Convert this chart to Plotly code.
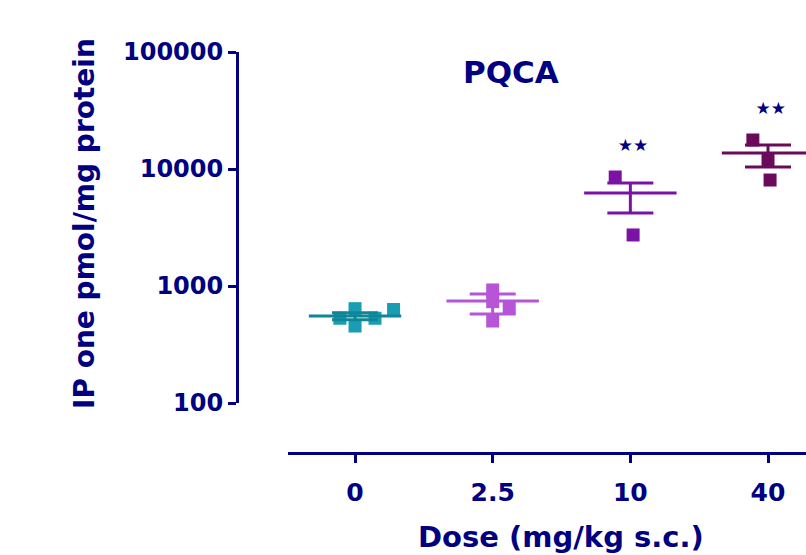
import plotly.graph_objects as go

# ---- data ----
dose_labels = ["0", "2.5", "10", "40"]
group_colors = ["#1a9cb2", "#b655d8", "#7a12a6", "#6a0a5a"]
mean_colors = ["#0f8598", "#b655d8", "#7a12a6", "#6a0a5a"]

g0_values = [530, 640, 455, 530, 630]
g0_offsets = [-0.11, 0.0, 0.0, 0.145, 0.28]
g1_values = [925, 735, 502, 662]
g1_offsets = [0.0, 0.0, 0.0, 0.12]
g2_values = [8540, 2730]
g2_offsets = [-0.11, 0.02]
g3_values = [17700, 11900, 8050]
g3_offsets = [-0.11, 0.0, 0.015]

means = [555, 745, 6230, 13700]
sem_upper = [590, 855, 7590, 16030]
sem_lower = [515, 577, 4210, 10400]

sig_labels = ["", "", "★★", "★★"]

groups_values = [g0_values, g1_values, g2_values, g3_values]
groups_offsets = [g0_offsets, g1_offsets, g2_offsets, g3_offsets]

NAVY = "#000080"
FONT = "DejaVu Sans"

fig = go.Figure()

for i, (vals, offs) in enumerate(zip(groups_values, groups_offsets)):
    fig.add_trace(go.Scatter(
        x=[i + o for o in offs], y=vals, mode="markers",
        marker=dict(symbol="square", size=13, color=group_colors[i], line=dict(width=0)),
        cliponaxis=False, showlegend=False, hoverinfo="skip"))

for i in range(4):
    fig.add_trace(go.Scatter(
        x=[i], y=[means[i]], mode="markers",
        marker=dict(symbol="line-ew-open", size=66, color=mean_colors[i],
                    line=dict(width=3, color=mean_colors[i])),
        error_y=dict(type="data", symmetric=False,
                     array=[sem_upper[i] - means[i]],
                     arrayminus=[means[i] - sem_lower[i]],
                     color=mean_colors[i], thickness=3, width=23),
        cliponaxis=False, showlegend=False, hoverinfo="skip"))

# significance stars
sig_x = [i + 0.02 for i in range(4) if sig_labels[i]]
sig_y = [max(groups_values[i]) * 1.8 for i in range(4) if sig_labels[i]]
fig.add_trace(go.Scatter(
    x=sig_x, y=sig_y, mode="text",
    text=[s for s in sig_labels if s],
    textfont=dict(family=FONT, size=17, color=NAVY),
    textposition="middle center", cliponaxis=False,
    showlegend=False, hoverinfo="skip"))

W, H = 806, 555
ml, mt, mr, mb = 237, 52, 0, 102
pw = W - ml - mr
ph = H - mt - mb

fig.update_layout(
    width=W, height=H,
    margin=dict(l=ml, r=mr, t=mt, b=mb, pad=0),
    paper_bgcolor="white", plot_bgcolor="white",
    xaxis=dict(
        domain=[(288 - 237) / pw, 1],
        range=[-0.487, 3.276],
        tickvals=[0, 1, 2, 3], ticktext=dose_labels,
        showgrid=False, zeroline=False,
        showline=True, linecolor=NAVY, linewidth=3,
        ticks="outside", ticklen=8, tickwidth=3, tickcolor=NAVY,
        ticklabelstandoff=8,
        tickfont=dict(family=FONT, size=25, color=NAVY, weight="bold"),
        anchor="free", position=0,
    ),
    yaxis=dict(
        type="log", range=[2, 5],
        domain=[(453 - 403) / ph, 1],
        tickvals=[100, 1000, 10000, 100000],
        ticktext=["100", "1000", "10000", "100000"],
        showgrid=False, zeroline=False,
        showline=True, linecolor=NAVY, linewidth=3,
        ticks="outside", ticklen=8, tickwidth=3, tickcolor=NAVY,
        tickfont=dict(family=FONT, size=24, color=NAVY, weight="bold"),
        anchor="free", position=0,
    ),
    annotations=[
        dict(text="PQCA", xref="paper", yref="paper",
             x=(511 - ml) / pw, y=(453 - 72) / ph, showarrow=False,
             xanchor="center", yanchor="middle",
             font=dict(family=FONT, size=31, color=NAVY, weight="bold")),
        dict(text="IP one pmol/mg protein", xref="paper", yref="paper",
             x=(84 - ml) / pw, y=(453 - 224) / ph, showarrow=False,
             textangle=-90, xanchor="center", yanchor="middle",
             font=dict(family=FONT, size=28, color=NAVY, weight="bold")),
        dict(text="Dose (mg/kg s.c.)", xref="paper", yref="paper",
             x=(561 - ml) / pw, y=(453 - 537) / ph, showarrow=False,
             xanchor="center", yanchor="middle",
             font=dict(family=FONT, size=29, color=NAVY, weight="bold")),
    ],
)

fig.write_html("out.html")
